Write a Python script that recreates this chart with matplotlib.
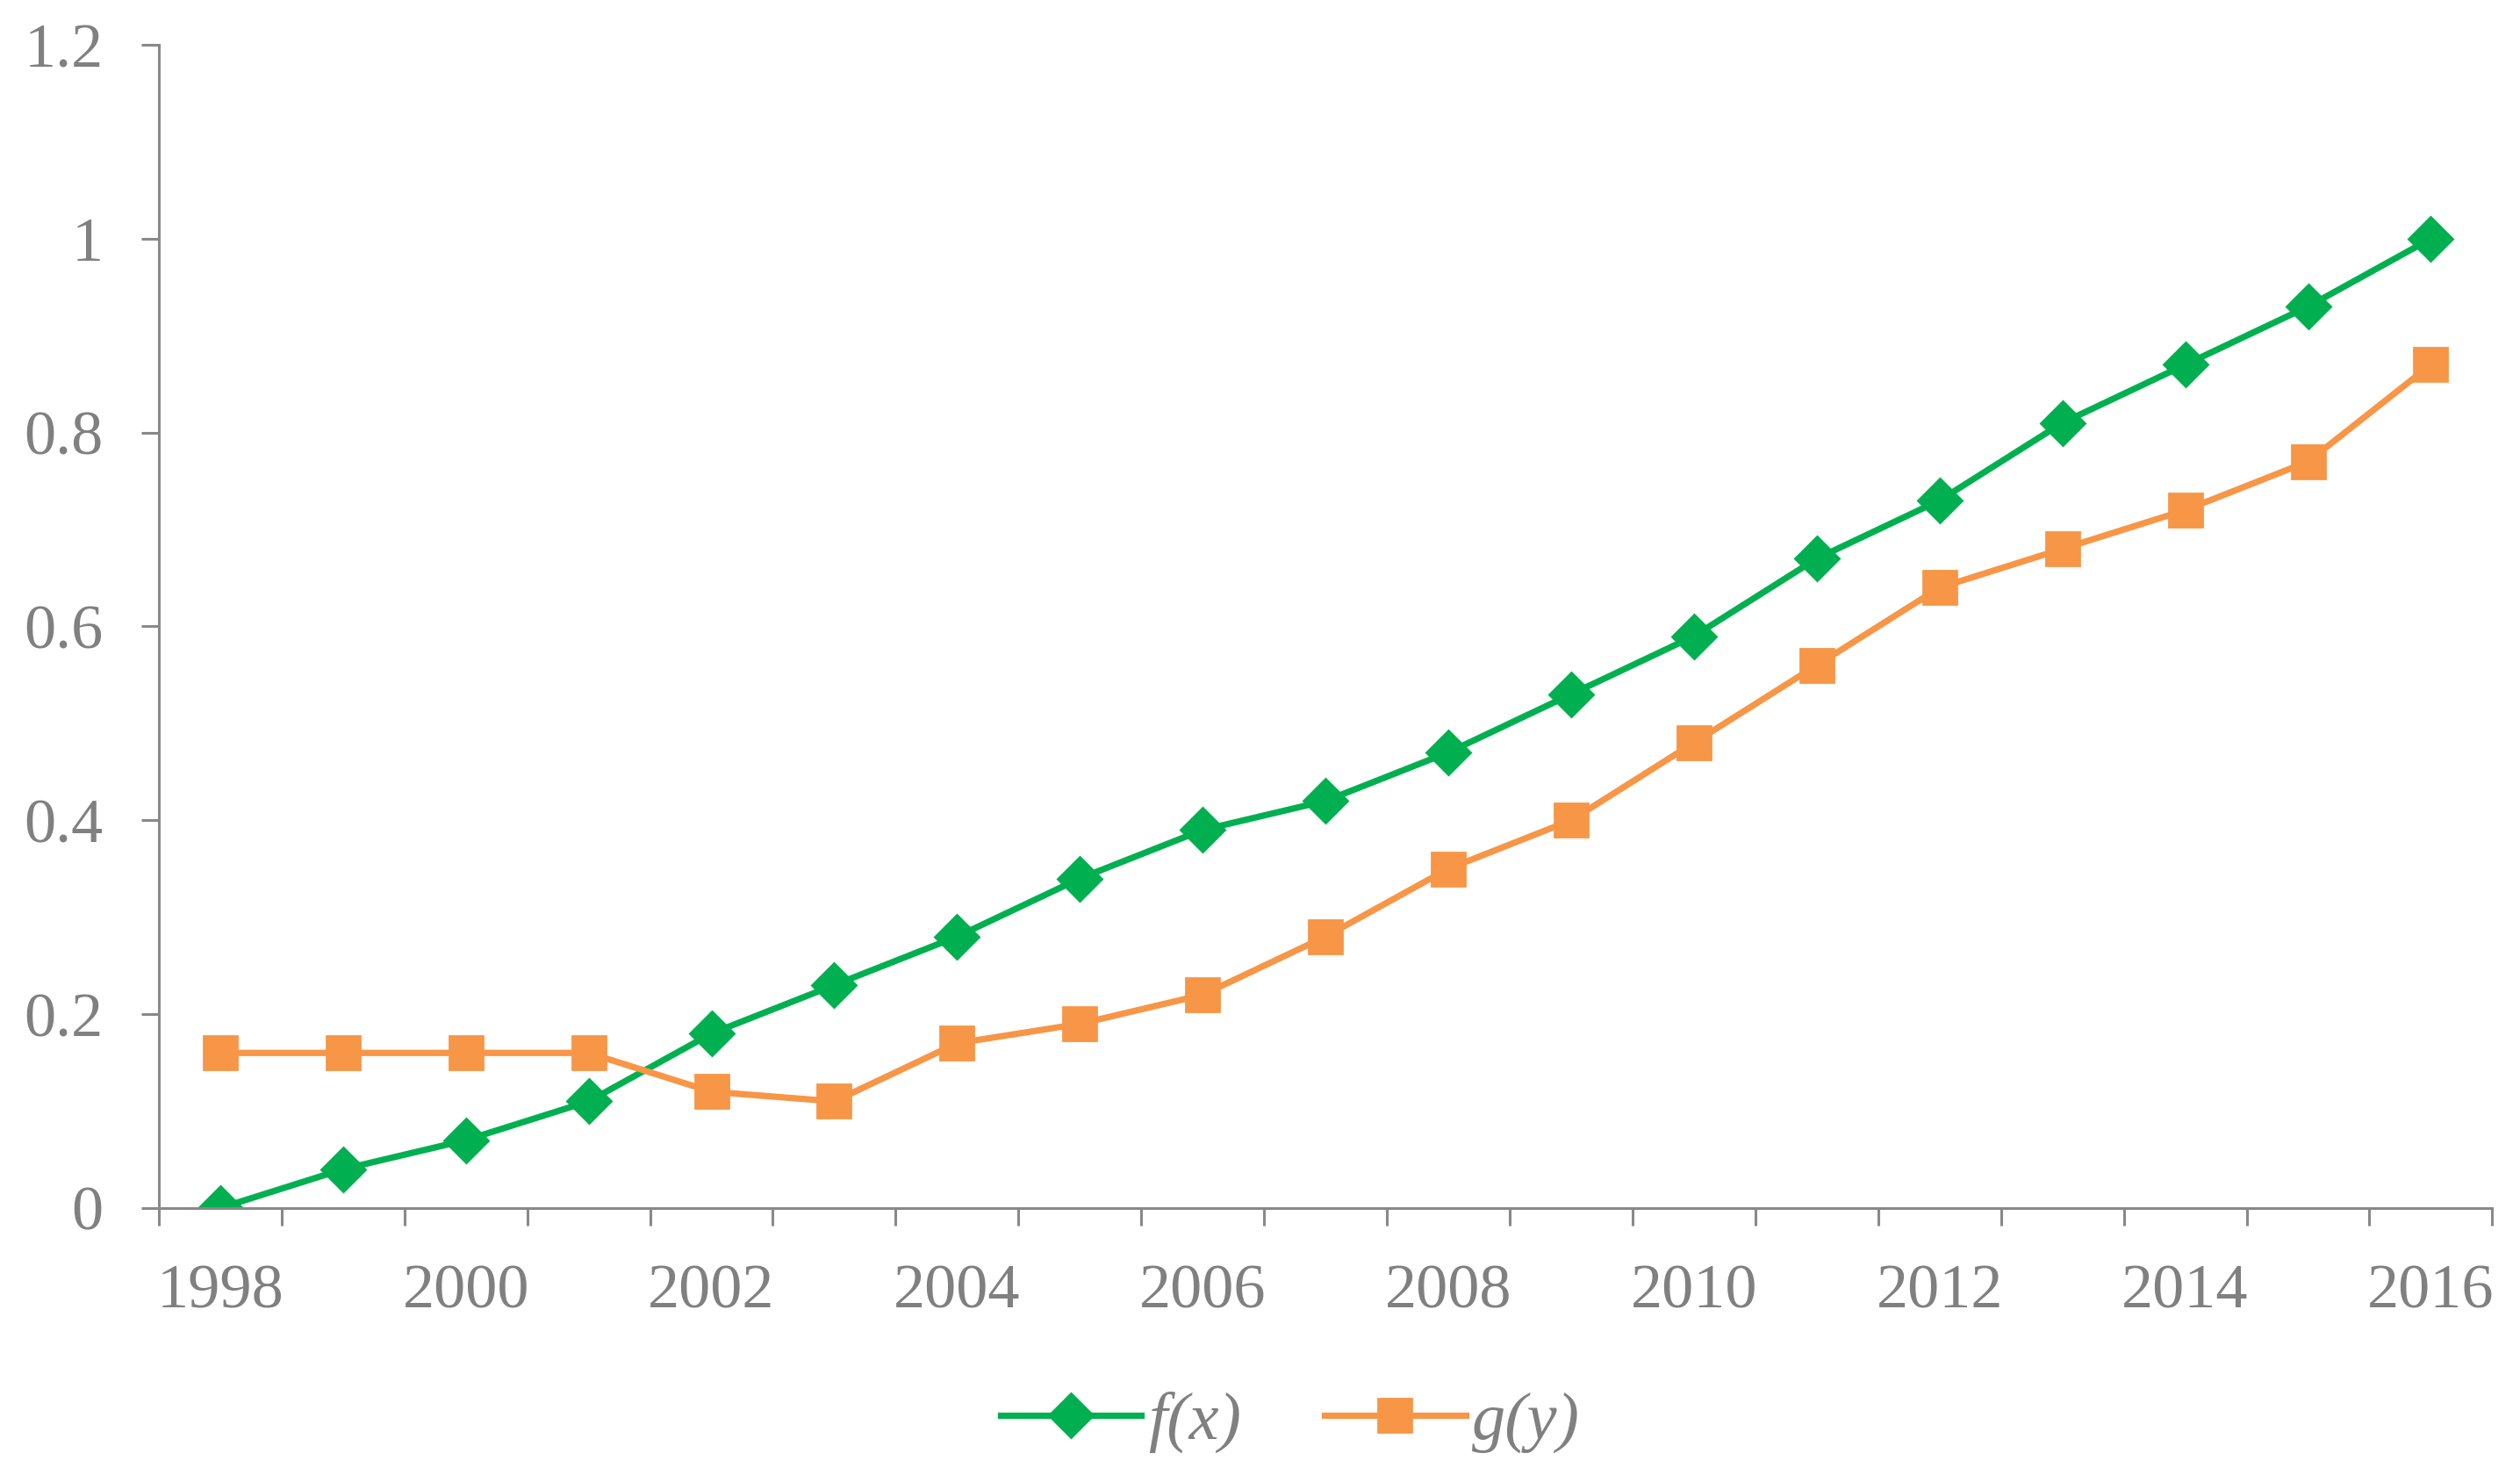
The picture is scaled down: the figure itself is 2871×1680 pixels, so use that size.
import numpy as np
import matplotlib
matplotlib.use("Agg")
import matplotlib.pyplot as plt

# 数据
years = list(range(1998, 2017))
f_x = [0.00, 0.04, 0.07, 0.11, 0.18, 0.23, 0.28, 0.34, 0.39, 0.42,
       0.47, 0.53, 0.59, 0.67, 0.73, 0.81, 0.87, 0.93, 1.00]
g_y = [0.16, 0.16, 0.16, 0.16, 0.12, 0.11, 0.17, 0.19, 0.22, 0.28,
       0.35, 0.40, 0.48, 0.56, 0.64, 0.68, 0.72, 0.77, 0.87]
y_ticks = [0, 0.2, 0.4, 0.6, 0.8, 1.0, 1.2]
y_labels = ["0", "0.2", "0.4", "0.6", "0.8", "1", "1.2"]

GREEN = "#00B050"
ORANGE = "#F79646"
AXIS = "#898989"
TEXT = "#808080"

plt.rcParams["font.family"] = ["Liberation Serif", "DejaVu Serif"]

fig = plt.figure(figsize=(14.355, 8.4), dpi=200)
ax = fig.add_axes([0.063, 0.181, 0.926, 0.7886])

idx = np.arange(len(years))
ax.plot(idx, f_x, color=GREEN, lw=2.6, marker="D", ms=12.5, label="f(x)")
ax.plot(idx, g_y, color=ORANGE, lw=2.6, marker="s", ms=14, label="g(y)")

ax.set_xlim(-0.5, len(years) - 0.5)
ax.set_ylim(0, 1.2)

for s in ["top", "right"]:
    ax.spines[s].set_visible(False)
for s in ["left", "bottom"]:
    ax.spines[s].set_color(AXIS)
    ax.spines[s].set_linewidth(1.1)

# x 轴：刻度线在类别之间，标签每隔一年
ax.set_xticks(np.arange(-0.5, len(years), 1.0))
ax.set_xticklabels([])
ax.tick_params(axis="x", which="major", length=7.2, width=1.1, color=AXIS)
ax.set_xticks(idx[::2], minor=True)
ax.set_xticklabels([str(y) for y in years[::2]], minor=True)
ax.tick_params(axis="x", which="minor", length=0, pad=23, labelsize=26, labelcolor=TEXT)

ax.set_yticks(y_ticks)
ax.set_yticklabels(y_labels)
ax.tick_params(axis="y", length=7.2, width=1.1, color=AXIS, pad=15.5,
               labelsize=26, labelcolor=TEXT)

leg = fig.legend(loc="center", bbox_to_anchor=(0.512, 0.036), ncol=2, frameon=False,
                 handlelength=2.1, handletextpad=0.1, columnspacing=1.25,
                 prop={"size": 27.5, "style": "italic"})
for t in leg.get_texts():
    t.set_color(TEXT)

fig.savefig("out.png", dpi=200)
